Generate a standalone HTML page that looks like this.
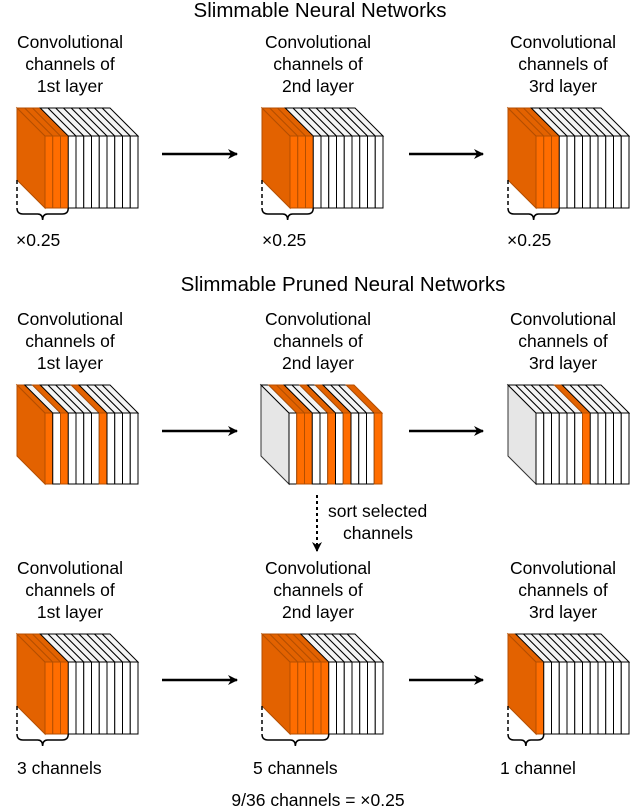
<!DOCTYPE html>
<html><head><meta charset="utf-8"><style>
html,body{margin:0;padding:0;background:#fff;}
svg{display:block;}
text{font-family:"Liberation Sans",sans-serif;font-size:17.5px;fill:#000;}
text.t{font-size:20.5px;}
</style></head><body>
<svg id="s" width="630" height="810" viewBox="0 0 630 810" xmlns="http://www.w3.org/2000/svg">
<defs><marker id="ah" markerWidth="10" markerHeight="10" refX="9" refY="5" orient="auto" markerUnits="userSpaceOnUse"><path d="M0,0 L10,5 L0,10 L3,5 z" fill="#000"/></marker></defs>
<g id="blocks"></g>
<text class="t" x="320" y="17" text-anchor="middle">Slimmable Neural Networks</text>
<text class="t" x="343" y="291" text-anchor="middle">Slimmable Pruned Neural Networks</text>
<g text-anchor="middle">
<text x="70" y="48">Convolutional</text><text x="70" y="70">channels of</text><text x="70" y="92">1st layer</text>
<text x="318" y="48">Convolutional</text><text x="318" y="70">channels of</text><text x="318" y="92">2nd layer</text>
<text x="563" y="48">Convolutional</text><text x="563" y="70">channels of</text><text x="563" y="92">3rd layer</text>
<text x="70" y="325">Convolutional</text><text x="70" y="347">channels of</text><text x="70" y="369">1st layer</text>
<text x="318" y="325">Convolutional</text><text x="318" y="347">channels of</text><text x="318" y="369">2nd layer</text>
<text x="563" y="325">Convolutional</text><text x="563" y="347">channels of</text><text x="563" y="369">3rd layer</text>
<text x="563" y="574">Convolutional</text><text x="563" y="596">channels of</text><text x="563" y="618">3rd layer</text>
<text x="70" y="574">Convolutional</text><text x="70" y="596">channels of</text><text x="70" y="618">1st layer</text>
<text x="318" y="574">Convolutional</text><text x="318" y="596">channels of</text><text x="318" y="618">2nd layer</text>
<text x="318" y="806">9/36 channels = ×0.25</text>
</g>
<text x="16" y="246">×0.25</text>
<text x="262" y="246">×0.25</text>
<text x="507" y="246">×0.25</text>
<text x="17" y="774">3 channels</text>
<text x="253" y="774">5 channels</text>
<text x="500" y="774">1 channel</text>
<text x="328" y="517">sort selected</text>
<text x="343" y="539">channels</text>
<g stroke="#000" stroke-width="2.5" marker-end="url(#ah)">
<line x1="162" y1="154" x2="237" y2="154"/><line x1="409" y1="154" x2="483" y2="154"/>
<line x1="162" y1="431" x2="237" y2="431"/><line x1="409" y1="431" x2="483" y2="431"/>
<line x1="162" y1="680" x2="237" y2="680"/><line x1="409" y1="680" x2="483" y2="680"/>
</g>
<line x1="317" y1="495" x2="317" y2="551" stroke="#000" stroke-width="2" stroke-dasharray="3,3" marker-end="url(#ah)"/>
</svg>
<script>
var g=document.getElementById('blocks'),NS='http://www.w3.org/2000/svg';
function el(t,a){var e=document.createElementNS(NS,t);for(var k in a)e.setAttribute(k,a[k]);g.appendChild(e);return e;}
function block(X,Y,H,pat,brace){
 var w=7.75,D=28,n=pat.length;
 var o0=pat[0]=='o';
 el('polygon',{points:(X-D)+','+(Y-D)+' '+X+','+Y+' '+X+','+(Y+H)+' '+(X-D)+','+(Y+H-D),fill:o0?'#e36200':'#e6e6e6',stroke:o0?'#b44e00':'#333','stroke-width':1});
 for(var i=0;i<n;i++){var x0=X+i*w,x1=x0+w,o=pat[i]=='o';
  el('polygon',{points:(x0-D)+','+(Y-D)+' '+(x1-D)+','+(Y-D)+' '+x1+','+Y+' '+x0+','+Y,fill:o?'#e36200':'#f4f4f4',stroke:o?'#b44e00':'#000','stroke-width':1});}
 for(var i=0;i<n;i++){var x0=X+i*w,o=pat[i]=='o';
  el('rect',{x:x0,y:Y,width:w,height:H,fill:o?'#ff6d00':'#fff',stroke:o?'#b44e00':'#000','stroke-width':1});}
 if(brace){var bx=X-D,ex=X+brace*w,yb=Y+H;
  el('line',{x1:bx,y1:Y+H-D,x2:bx,y2:yb,stroke:'#000','stroke-width':1.5,'stroke-dasharray':'4,3'});
  var m=(bx+ex)/2;
  el('path',{d:'M'+bx+','+yb+' q0,6 6,6 L'+(m-5)+','+(yb+6)+' q5,0 5,6 q0,-6 5,-6 L'+(ex-6)+','+(yb+6)+' q6,0 6,-6',fill:'none',stroke:'#000','stroke-width':1.5});}
}
block(45,136,72,'ooowwwwwwwww',3);
block(290,136,72,'ooowwwwwwwww',3);
block(536,136,72,'ooowwwwwwwww',3);
block(45,413,71,'owowwwwowwww',0);
block(289,413,71,'woowwowowwwo',0);
block(536,413,71,'wwwwwwowwwww',0);
block(45,662,72,'ooowwwwwwwww',3);
block(290,662,72,'ooooowwwwwww',5);
block(536,662,72,'owwwwwwwwwww',1);
</script>
</body></html>
